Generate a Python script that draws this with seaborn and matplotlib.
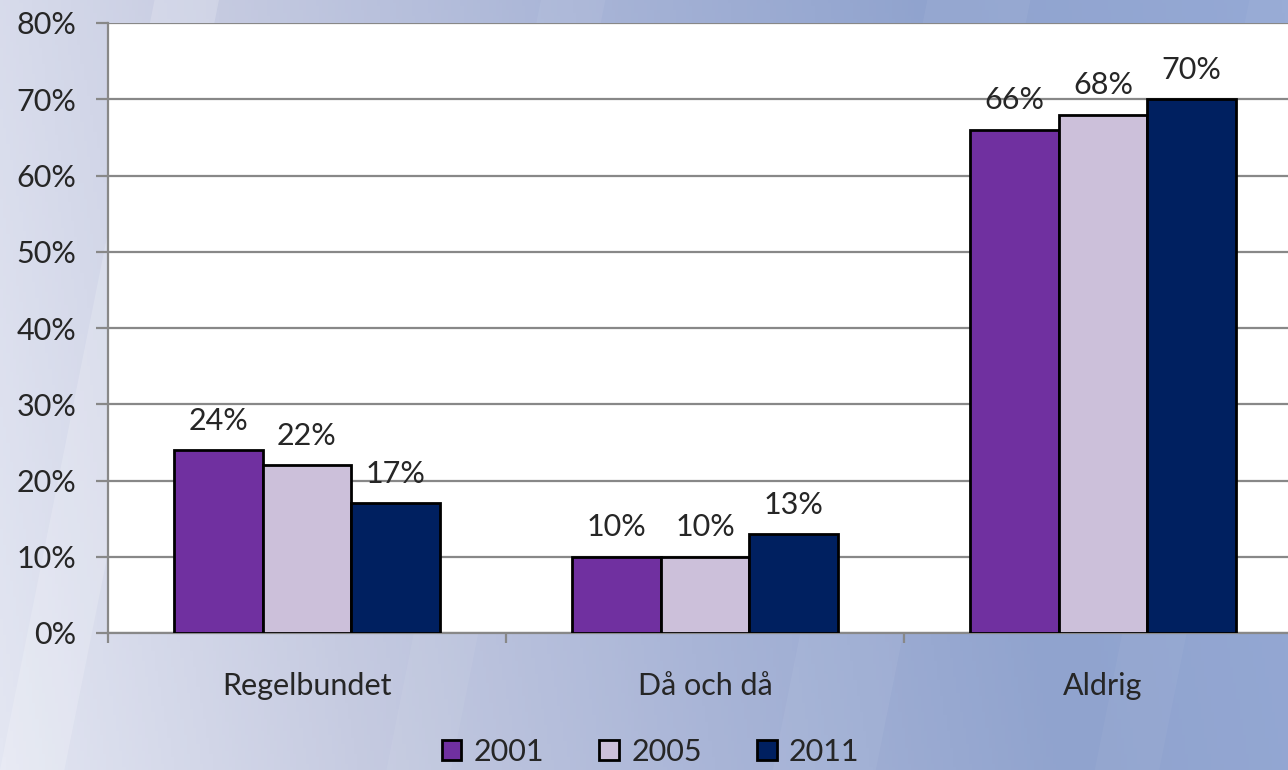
import numpy as np
import pandas as pd
import matplotlib
matplotlib.use('Agg')
import matplotlib.pyplot as plt
import matplotlib.patches as mpatches
from matplotlib.colors import LinearSegmentedColormap
import seaborn as sns

# data
kategorier = ['Regelbundet', 'Då och då', 'Aldrig']
ar = ['2001', '2005', '2011']
andel_2001 = [24, 10, 66]
andel_2005 = [22, 10, 68]
andel_2011 = [17, 13, 70]
farger = ['#7030A0', '#CCC0DA', '#002060']
y_ticks = [0, 10, 20, 30, 40, 50, 60, 70, 80]

df = pd.DataFrame({
    'kategori': kategorier * 3,
    'år': [a for a in ar for _ in kategorier],
    'andel': andel_2001 + andel_2005 + andel_2011,
})

sns.set_theme(style='white')
plt.rcParams['font.family'] = ['Lato', 'DejaVu Sans']

fig = plt.figure(figsize=(12.88, 7.7), dpi=100)

# bakgrund med gradient
bg = fig.add_axes([0, 0, 1, 1], zorder=-10)
bg.set_axis_off()
cmap = LinearSegmentedColormap.from_list(
    'bg', ['#e3e6f2', '#c6cbe1', '#a9b5d7', '#90a3ce', '#95a9d5'])
xx, yy = np.meshgrid(np.linspace(0, 1, 400), np.linspace(0, 1, 240))
grad = np.clip(xx * 0.9 + (1 - yy) * 0.1, 0, 1)
bg.imshow(grad, cmap=cmap, aspect='auto', extent=[0, 1, 0, 1], origin='upper')
# några ljusa diagonala stråk
for x0, w, a in [(0.0, 0.05, 0.18), (0.30, 0.05, 0.06), (0.60, 0.08, 0.05), (0.85, 0.05, 0.04)]:
    bg.add_patch(mpatches.Polygon([[x0, 0], [x0 + w, 0], [x0 + w + 0.12, 1], [x0 + 0.12, 1]],
                                  closed=True, color='white', alpha=a, lw=0))
bg.set_xlim(0, 1)
bg.set_ylim(0, 1)

ax = fig.add_axes([108 / 1288, 137 / 770, 1194 / 1288, 610 / 770])
ax.set_facecolor('white')

sns.barplot(data=df, x='kategori', y='andel', hue='år', palette=farger,
            edgecolor='black', linewidth=2, width=0.667, gap=0,
            saturation=1, ax=ax, zorder=3)

for cont in ax.containers:
    ax.bar_label(cont, labels=[f'{int(v)}%' for v in cont.datavalues],
                 padding=11, fontsize=22)

ax.set_ylim(0, 80)
ax.set_xlim(-0.5, 2.5)
ax.set_yticks(y_ticks)
ax.set_yticklabels([f'{v}%' for v in y_ticks], fontsize=22)
ax.yaxis.grid(True, color='#888888', linewidth=1.6, zorder=0)
ax.set_axisbelow(True)
ax.set_xlabel('')
ax.set_ylabel('')

for side in ['top', 'right']:
    ax.spines[side].set_visible(False)
for side in ['left', 'bottom']:
    ax.spines[side].set_color('#888888')
    ax.spines[side].set_linewidth(1.6)

ax.tick_params(axis='y', which='major', length=9, width=1.6, color='#888888',
               direction='out', pad=14, left=True)
ax.tick_params(axis='x', which='major', length=0, pad=28, labelsize=22)
ax.set_xticks([-0.5, 0.5, 1.5, 2.5], minor=True)
ax.tick_params(axis='x', which='minor', length=7, width=1.6, color='#888888',
               direction='out', bottom=True)

handles = [mpatches.Patch(facecolor=c, edgecolor='black', linewidth=2) for c in farger]
ax.get_legend().remove()
fig.legend(handles, ar, loc='lower center', bbox_to_anchor=(0.505, -0.03), ncol=3,
           frameon=False, fontsize=22, handlelength=0.65, handleheight=0.65,
           handletextpad=0.4, columnspacing=1.8)

fig.savefig('out.png', dpi=100)
